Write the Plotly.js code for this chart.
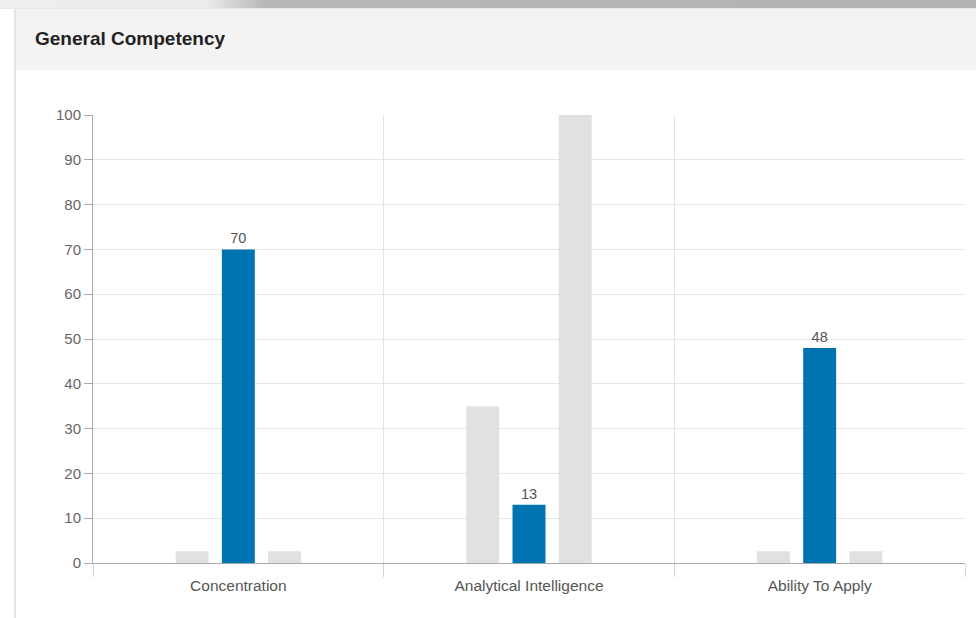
<!DOCTYPE html>
<html>
<head>
<meta charset="utf-8">
<script src="https://cdn.plot.ly/plotly-3.0.1.min.js"></script>
<style>
  html, body { margin: 0; padding: 0; width: 976px; height: 618px; overflow: hidden; background: #ffffff; font-family: Arial, "Liberation Sans", sans-serif; }
  #topbar { position: absolute; left: 0; top: 0; width: 976px; height: 8px;
            background: linear-gradient(to right, #eeeeee 0px, #ececec 205px, #b8b8b8 265px, #b2b2b2 976px);
            border-bottom: 1px solid #e8e8e8; }
  #panel { position: absolute; left: 14px; top: 9px; width: 980px; height: 620px; background: #ffffff;
           border-left: 2px solid #e4e4e4; }
  #header { position: absolute; left: 16px; top: 9px; width: 960px; height: 61px; background: #f3f3f3; }
  #chart { position: absolute; left: 0; top: 0; width: 976px; height: 618px; }
</style>
</head>
<body>
<div id="topbar"></div>
<div id="panel"></div>
<div id="header"></div>
<div id="chart"></div>
<script>
// Competency categories and the three bar series per category
const categories = ['Concentration', 'Analytical Intelligence', 'Ability To Apply'];
const lowerBand  = [2.6, 35, 2.6];
const scores     = [70, 13, 48];
const upperBand  = [2.6, 100, 2.6];
const yTicks     = [0, 10, 20, 30, 40, 50, 60, 70, 80, 90, 100];

const grey = '#e1e1e1';
const blue = '#0073b1';

const traces = [
  { type: 'bar', name: 'Lower band', x: categories, y: lowerBand,
    marker: { color: grey }, hoverinfo: 'skip' },
  { type: 'bar', name: 'Score', x: categories, y: scores,
    marker: { color: blue },
    text: scores.map(String), textposition: 'outside', cliponaxis: false,
    textfont: { family: 'Arial, Liberation Sans, sans-serif', size: 14.5, color: '#555555' },
    hoverinfo: 'skip' },
  { type: 'bar', name: 'Upper band', x: categories, y: upperBand,
    marker: { color: grey }, hoverinfo: 'skip' }
];

const layout = {
  width: 976, height: 618,
  margin: { l: 93, r: 11, t: 115, b: 55, pad: 0 },
  paper_bgcolor: 'rgba(0,0,0,0)',
  plot_bgcolor: 'rgba(0,0,0,0)',
  showlegend: false,
  barmode: 'group',
  bargap: 0.523,
  bargroupgap: 0.287,
  font: { family: 'Arial, Liberation Sans, sans-serif', color: '#555555' },
  title: {
    text: '<b>General Competency</b>',
    font: { family: 'Arial, Liberation Sans, sans-serif', size: 19, color: '#222222' },
    xref: 'container', yref: 'container',
    x: 35 / 976, xanchor: 'left',
    y: 1 - 38 / 618, yanchor: 'middle'
  },
  xaxis: {
    type: 'category',
    range: [-0.5, 2.5],
    tickson: 'boundaries',
    ticks: 'outside', ticklen: 13, tickcolor: '#d6d6d6', tickwidth: 1,
    ticklabelstandoff: 8,
    showgrid: true, gridcolor: '#e2e2e2', gridwidth: 1,
    showline: true, linecolor: '#aaaaaa', linewidth: 1,
    tickfont: { size: 15.5, color: '#555555' },
    fixedrange: true
  },
  yaxis: {
    range: [0, 100],
    tickvals: yTicks,
    ticktext: yTicks.map(String),
    ticks: 'outside', ticklen: 8, tickcolor: '#aaaaaa', tickwidth: 1,
    showgrid: true, gridcolor: '#e6e6e6', gridwidth: 1,
    showline: true, linecolor: '#aaaaaa', linewidth: 1,
    zeroline: false,
    tickfont: { size: 15, color: '#666666' },
    fixedrange: true
  }
};

Plotly.newPlot('chart', traces, layout, { staticPlot: true, displayModeBar: false });
</script>
</body>
</html>
